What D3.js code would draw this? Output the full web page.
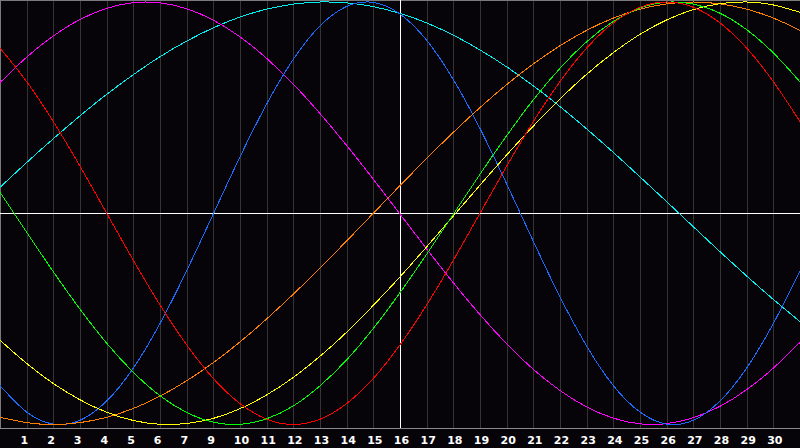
<!DOCTYPE html>
<html>
<head>
<meta charset="utf-8">
<script src="https://cdn.jsdelivr.net/npm/d3@7/dist/d3.min.js"></script>
<style>
  html, body { margin: 0; padding: 0; background: #060409; }
  svg { display: block; }
</style>
</head>
<body>
<svg id="chart" width="800" height="448"></svg>
<script>
// Day index of each sample (0 = left edge, 30 = right edge)
const days = [0,1,2,3,4,5,6,7,8,9,10,11,12,13,14,15,16,17,18,19,20,21,22,23,24,25,26,27,28,29,30];

// Grid positions (day index) and their printed labels (note: "8" is absent in the original)
const tickDays   = [1,2,3,4,5,6,7,8,9,10,11,12,13,14,15,16,17,18,19,20,21,22,23,24,25,26,27,28,29];
const tickLabels = ["1","2","3","4","5","6","7","9","10","11","12","13","14","15","16","17","18","19","20","21","22","23","24","25","26","27","28","29","30"];

// Series values (-1 .. 1), one per day index
const redValues = [0.782,0.623,0.434,0.223,0.000,-0.223,-0.434,-0.623,-0.782,-0.901,-0.975,-1.000,-0.975,-0.901,-0.782,-0.623,-0.434,-0.223,0.000,0.223,0.434,0.623,0.782,0.901,0.975,1.000,0.975,0.901,0.782,0.623,0.434];
const greenValues = [0.100,-0.090,-0.277,-0.454,-0.615,-0.753,-0.864,-0.943,-0.989,-0.999,-0.973,-0.912,-0.817,-0.694,-0.545,-0.376,-0.194,-0.005,0.185,0.367,0.537,0.686,0.812,0.908,0.971,0.999,0.990,0.947,0.869,0.759,0.622];
const cyanValues = [0.123,0.240,0.353,0.461,0.563,0.656,0.741,0.815,0.878,0.929,0.966,0.990,1.000,0.996,0.978,0.946,0.901,0.843,0.773,0.693,0.603,0.505,0.399,0.288,0.172,0.055,-0.064,-0.182,-0.297,-0.408,-0.513];
const magentaValues = [0.618,0.739,0.839,0.917,0.970,0.997,0.996,0.968,0.914,0.835,0.733,0.611,0.472,0.321,0.161,-0.004,-0.169,-0.329,-0.480,-0.618,-0.739,-0.839,-0.917,-0.970,-0.997,-0.996,-0.968,-0.914,-0.835,-0.733,-0.611];
const blueValues = [-0.816,-0.941,-0.998,-0.980,-0.889,-0.733,-0.522,-0.272,-0.003,0.267,0.517,0.729,0.887,0.979,0.998,0.943,0.819,0.633,0.401,0.139,-0.133,-0.396,-0.629,-0.816,-0.941,-0.998,-0.980,-0.889,-0.733,-0.522,-0.272];
const yellowValues = [-0.601,-0.711,-0.806,-0.883,-0.942,-0.981,-0.999,-0.995,-0.971,-0.925,-0.860,-0.777,-0.677,-0.563,-0.436,-0.301,-0.159,-0.013,0.133,0.276,0.413,0.541,0.658,0.760,0.847,0.915,0.964,0.992,1.000,0.986,0.951];
const orangeValues = [-0.966,-0.991,-1.000,-0.991,-0.966,-0.924,-0.866,-0.793,-0.707,-0.609,-0.500,-0.383,-0.259,-0.131,0.000,0.131,0.259,0.383,0.500,0.609,0.707,0.793,0.866,0.924,0.966,0.991,1.000,0.991,0.966,0.924,0.866];

const seriesList = [
  { name: "cyan",    values: cyanValues,    color: "#00f0f0" },
  { name: "magenta", values: magentaValues, color: "#ff00ff" },
  { name: "blue",    values: blueValues,    color: "#1a6cff" },
  { name: "orange",  values: orangeValues,  color: "#ff7f00" },
  { name: "yellow",  values: yellowValues,  color: "#ffff00" },
  { name: "green",   values: greenValues,   color: "#00ff00" },
  { name: "red",     values: redValues,     color: "#ff0000" }
];

const W = 800, H = 448, plotBottom = 428;
const svg = d3.select("#chart");

const x = d3.scaleLinear().domain([0, 30]).range([0, W]);
const y = d3.scaleLinear().domain([-1, 1]).range([424.5, 2]);

svg.append("rect").attr("x", 0).attr("y", 0).attr("width", W).attr("height", H).attr("fill", "#060409");

// vertical grid
svg.append("g").selectAll("line").data(tickDays).join("line")
  .attr("x1", d => Math.round(x(d)) + 0.5).attr("x2", d => Math.round(x(d)) + 0.5)
  .attr("y1", 0).attr("y2", plotBottom)
  .attr("stroke", "#343434").attr("stroke-width", 1);

// frame: top, left
svg.append("line").attr("x1", 0).attr("x2", W).attr("y1", 0.5).attr("y2", 0.5).attr("stroke", "#7a7a7a");
svg.append("line").attr("x1", 0.5).attr("x2", 0.5).attr("y1", 0).attr("y2", plotBottom).attr("stroke", "#7a7a7a");

// centre cross
svg.append("line").attr("x1", Math.round(x(15)) + 0.5).attr("x2", Math.round(x(15)) + 0.5)
  .attr("y1", 0).attr("y2", plotBottom).attr("stroke", "#ffffff");
svg.append("line").attr("x1", 0).attr("x2", W)
  .attr("y1", Math.floor(y(0)) + 0.5).attr("y2", Math.floor(y(0)) + 0.5).attr("stroke", "#ffffff");

// curves
const line = d3.line().x((d, i) => x(days[i])).y(d => y(d)).curve(d3.curveNatural);
svg.append("g").selectAll("path").data(seriesList).join("path")
  .attr("d", s => line(s.values))
  .attr("fill", "none")
  .attr("stroke", s => s.color)
  .attr("stroke-width", 1)
  .attr("shape-rendering", "crispEdges");

// bottom axis
const axis = d3.axisBottom(x)
  .tickValues(tickDays)
  .tickFormat((d, i) => tickLabels[i])
  .tickSize(0)
  .tickPadding(0);
const gAxis = svg.append("g").attr("transform", `translate(0,${plotBottom})`).call(axis);
gAxis.select(".domain").attr("stroke", "#8a8a8a").attr("d", `M0,0.5H${W}`);
gAxis.selectAll("text")
  .attr("fill", "#ffffff")
  .attr("font-family", "DejaVu Sans, sans-serif")
  .attr("font-weight", "bold")
  .attr("font-size", "11px")
  .attr("text-anchor", "start")
  .attr("dx", -6.7)
  .attr("dy", 0)
  .attr("y", 15.5);
</script>
</body>
</html>
